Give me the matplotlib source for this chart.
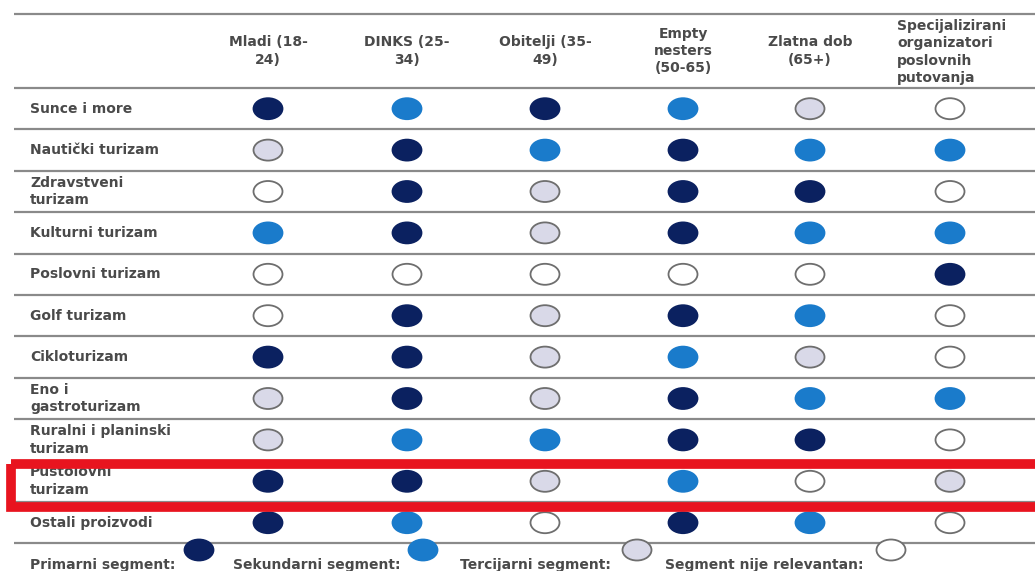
import matplotlib.pyplot as plt
from matplotlib.patches import Ellipse, Rectangle

# segment codes: 1 = primarni, 2 = sekundarni, 3 = tercijarni, 0 = nije relevantan
columns = ["Mladi (18-\n24)", "DINKS (25-\n34)", "Obitelji (35-\n49)",
           "Empty\nnesters\n(50-65)", "Zlatna dob\n(65+)",
           "Specijalizirani\norganizatori\nposlovnih\nputovanja"]
products = ["Sunce i more", "Nautički turizam", "Zdravstveni\nturizam",
            "Kulturni turizam", "Poslovni turizam", "Golf turizam",
            "Cikloturizam", "Eno i\ngastroturizam", "Ruralni i planinski\nturizam",
            "Pustolovni\nturizam", "Ostali proizvodi"]
segments = [
    [1, 2, 1, 2, 3, 0],
    [3, 1, 2, 1, 2, 2],
    [0, 1, 3, 1, 1, 0],
    [2, 1, 3, 1, 2, 2],
    [0, 0, 0, 0, 0, 1],
    [0, 1, 3, 1, 2, 0],
    [1, 1, 3, 2, 3, 0],
    [3, 1, 3, 1, 2, 2],
    [3, 2, 2, 1, 1, 0],
    [1, 1, 3, 2, 0, 3],
    [1, 2, 0, 1, 2, 0],
]
legend_labels = ["Primarni segment:", "Sekundarni segment:",
                 "Tercijarni segment:", "Segment nije relevantan:"]
legend_codes = [1, 2, 3, 0]
highlight_row = 9

fills = {1: "#0b2160", 2: "#1a7bcb", 3: "#d9d9e8", 0: "#ffffff"}
edges = {1: "#0b2160", 2: "#1a7bcb", 3: "#6e6e6e", 0: "#6e6e6e"}
txt = "#4a4a4a"
fnt = "DejaVu Sans"
fs = 10

fig = plt.figure(figsize=(10.35, 5.71), dpi=100)
ax = fig.add_axes([0, 0, 1, 1])
ax.set_xlim(0, 1035)
ax.set_ylim(571, 0)
ax.axis("off")

col_x = [268, 407, 545, 683, 810, 950]
head_top = 14
head_bot = 88
row_h = 41.4

def dot(x, y, code, w=29, h=21):
    ax.add_patch(Ellipse((x, y), w, h, facecolor=fills[code],
                         edgecolor=edges[code], lw=1.3, zorder=3))

# rules
rules = [head_top] + [head_bot + i * row_h for i in range(len(products) + 1)]
ax.hlines(rules, 14, 1035, color="#8a8a8a", lw=1.6, zorder=1)

# header
for j, lab in enumerate(columns):
    n = lab.count("\n") + 1
    if n == 4:
        ax.text(897, 52, lab, ha="left", va="center", fontsize=fs, color=txt,
                family=fnt, weight="bold", linespacing=1.3)
    else:
        ax.text(col_x[j], 51, lab, ha="center", va="center", fontsize=fs,
                color=txt, family=fnt, weight="bold", linespacing=1.3)

# body
for i, prod in enumerate(products):
    cy = head_bot + (i + 0.5) * row_h
    ax.text(30, cy, prod, ha="left", va="center", fontsize=fs, color=txt,
            family=fnt, weight="bold", linespacing=1.35)
    for j, code in enumerate(segments[i]):
        dot(col_x[j], cy, code)

# highlight box
ry0 = head_bot + highlight_row * row_h
ax.add_patch(Rectangle((11, ry0 + 3), 1100, row_h + 2, fill=False,
                       edgecolor="#e8141f", lw=7, zorder=4))

# legend
leg_text_x = [30, 233, 460, 665]
leg_dot_x = [199, 423, 637, 891]
for k, lab in enumerate(legend_labels):
    ax.text(leg_text_x[k], 565, lab, ha="left", va="center", fontsize=fs,
            color=txt, family=fnt, weight="bold")
    dot(leg_dot_x[k], 550, legend_codes[k])

fig.savefig("out.png", dpi=100)
